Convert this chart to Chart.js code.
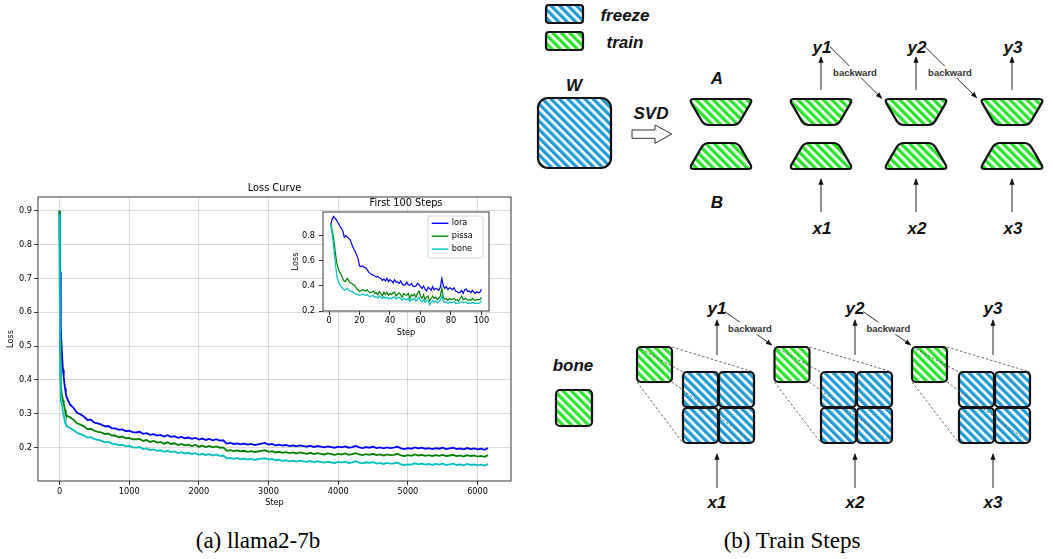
<!DOCTYPE html>
<html lang="en">
<head>
  <meta charset="UTF-8" />
  <title>Loss Curve and Train Steps</title>
  <script src="https://cdn.jsdelivr.net/npm/chart.js"></script>
  <style>
    body { margin: 0; background: #fff; }
    .page { position: relative; width: 1053px; height: 559px; overflow: hidden; background: #fff; }
    #lossChart { position: absolute; left: 0; top: 180px; }
    #insetChart { position: absolute; left: 285px; top: 196px; z-index: 2; }
    #diagram { position: absolute; left: 0; top: 0; }
    .caption { position: absolute; top: 529px; width: 240px; text-align: center;
      font-family: "Liberation Serif", "Times New Roman", serif; font-size: 23px; line-height: 1; color: #000; }
  </style>
</head>
<body>
<div class="page">
  <svg id="diagram" width="1053" height="559"></svg>
  <canvas id="lossChart" width="520" height="335" style="width:520px;height:335px"></canvas>
  <canvas id="insetChart" width="210" height="144" style="width:210px;height:144px"></canvas>
  <div class="caption" style="left:138px">(a) llama2-7b</div>
  <div class="caption" style="left:672px">(b) Train Steps</div>
</div>

<script>
  // ---- main curve ----
  const steps = [
    0, 3, 6, 10, 15, 20, 30, 40, 50, 60, 70, 80, 90, 100,
    150, 200, 250, 300, 350, 400, 450, 500, 550, 600,
    650, 700, 750, 800, 850, 900, 950, 1000, 1050, 1100,
    1150, 1200, 1250, 1300, 1350, 1400, 1450, 1500, 1550, 1600,
    1650, 1700, 1750, 1800, 1850, 1900, 1950, 2000, 2050, 2100,
    2150, 2200, 2250, 2300, 2350, 2400, 2450, 2500, 2550, 2600,
    2650, 2700, 2750, 2800, 2850, 2900, 2950, 3000, 3050, 3100,
    3150, 3200, 3250, 3300, 3350, 3400, 3450, 3500, 3550, 3600,
    3650, 3700, 3750, 3800, 3850, 3900, 3950, 4000, 4050, 4100,
    4150, 4200, 4250, 4300, 4350, 4400, 4450, 4500, 4550, 4600,
    4650, 4700, 4750, 4800, 4850, 4900, 4950, 5000, 5050, 5100,
    5150, 5200, 5250, 5300, 5350, 5400, 5450, 5500, 5550, 5600,
    5650, 5700, 5750, 5800, 5850, 5900, 5950, 6000, 6050, 6100,
    6150
  ];
  const loraLoss = [
    .900, .860, .800, .720, .620, .550, .500, .460, .430, .410, .390, .375, .360, .350,
    .328, .318, .303, .299, .292, .282, .283, .274, .272, .268,
    .263, .264, .258, .257, .253, .254, .249, .250, .246, .245,
    .247, .241, .243, .238, .240, .236, .238, .233, .237, .232,
    .234, .229, .232, .228, .230, .226, .229, .224, .227, .223,
    .226, .222, .225, .221, .222, .212, .214, .211, .213, .210,
    .212, .209, .211, .208, .210, .212, .214, .209, .211, .207,
    .209, .206, .208, .205, .207, .204, .207, .205, .203, .206,
    .202, .205, .203, .201, .204, .202, .200, .203, .201, .204,
    .200, .202, .205, .201, .199, .202, .200, .203, .199, .201,
    .198, .201, .199, .200, .203, .198, .196, .199, .197, .201,
    .198, .200, .197, .199, .196, .199, .197, .200, .196, .198,
    .200, .196, .198, .195, .199, .196, .198, .195, .197, .194,
    .199
  ];
  const pissaLoss = [
    .900, .800, .650, .520, .430, .390, .360, .350, .340, .330, .320, .310, .300, .295,
    .290, .283, .272, .268, .263, .255, .256, .250, .247, .245,
    .240, .242, .236, .236, .231, .233, .228, .229, .225, .225,
    .226, .220, .223, .217, .220, .215, .217, .212, .216, .211,
    .213, .208, .211, .207, .209, .205, .208, .203, .206, .202,
    .205, .201, .204, .200, .201, .191, .193, .190, .192, .189,
    .191, .188, .190, .187, .189, .191, .193, .188, .190, .186,
    .188, .185, .187, .184, .186, .183, .186, .184, .182, .185,
    .181, .184, .182, .180, .183, .181, .179, .182, .180, .183,
    .179, .181, .184, .180, .178, .181, .179, .182, .178, .180,
    .177, .180, .178, .179, .182, .177, .175, .178, .176, .180,
    .177, .179, .176, .178, .175, .178, .176, .179, .175, .177,
    .179, .175, .177, .174, .178, .175, .177, .174, .176, .173,
    .178
  ];
  const boneLoss = [
    .890, .780, .580, .450, .380, .340, .330, .320, .305, .295, .285, .275, .270, .265,
    .258, .252, .244, .240, .236, .230, .231, .225, .223, .221,
    .216, .218, .212, .211, .207, .209, .204, .205, .201, .200,
    .202, .196, .198, .193, .195, .191, .193, .188, .191, .187,
    .189, .184, .187, .183, .185, .181, .184, .179, .182, .178,
    .181, .177, .180, .176, .177, .168, .170, .167, .169, .166,
    .168, .165, .167, .164, .166, .168, .169, .165, .167, .163,
    .165, .161, .163, .160, .162, .159, .162, .160, .158, .161,
    .157, .160, .158, .156, .159, .157, .155, .158, .156, .159,
    .155, .157, .160, .156, .154, .157, .155, .157, .153, .155,
    .152, .155, .153, .154, .156, .151, .149, .151, .150, .154,
    .151, .153, .150, .152, .149, .152, .150, .153, .149, .151,
    .153, .149, .151, .148, .152, .149, .151, .148, .150, .147,
    .152
  ];
  const stepTicks = [0, 1000, 2000, 3000, 4000, 5000, 6000];
  const lossTicks = [0.2, 0.3, 0.4, 0.5, 0.6, 0.7, 0.8, 0.9];

  // ---- first 100 steps (inset), steps 1..100 ----
  const insetLora = [
    .885, .930, .955, .940, .925, .900, .880, .860, .840, .790,
    .800, .790, .780, .765, .730, .700, .680, .650, .620, .560,
    .555, .560, .550, .545, .530, .510, .500, .490, .485, .480,
    .470, .475, .465, .460, .445, .455, .440, .460, .435, .450,
    .440, .425, .450, .430, .430, .420, .440, .415, .405, .410,
    .430, .410, .405, .420, .400, .395, .400, .420, .410, .395,
    .380, .400, .375, .360, .390, .380, .365, .395, .370, .380,
    .375, .365, .390, .460, .400, .380, .395, .370, .385, .380,
    .370, .385, .360, .355, .345, .350, .365, .340, .370, .375,
    .355, .360, .345, .365, .350, .340, .355, .345, .350, .375
  ];
  const insetPissa = [
    .900, .850, .780, .680, .590, .540, .510, .490, .460, .435,
    .440, .460, .440, .425, .420, .410, .400, .380, .370, .355,
    .360, .370, .365, .360, .370, .355, .345, .350, .360, .340,
    .345, .330, .355, .340, .320, .350, .330, .350, .325, .340,
    .330, .345, .350, .320, .335, .345, .330, .310, .340, .330,
    .325, .340, .300, .330, .320, .335, .310, .340, .360, .320,
    .300, .330, .290, .310, .320, .280, .300, .320, .300, .310,
    .290, .300, .320, .380, .310, .295, .300, .285, .300, .290,
    .295, .300, .285, .290, .280, .300, .320, .290, .295, .300,
    .285, .290, .285, .300, .290, .285, .290, .290, .290, .310
  ];
  const insetBone = [
    .890, .820, .720, .600, .490, .440, .410, .395, .380, .365,
    .370, .380, .365, .360, .355, .350, .340, .335, .330, .325,
    .330, .335, .330, .325, .330, .320, .315, .320, .325, .310,
    .315, .305, .320, .310, .300, .315, .300, .310, .295, .305,
    .300, .310, .310, .295, .305, .310, .300, .285, .300, .295,
    .290, .300, .275, .295, .290, .300, .280, .290, .310, .285,
    .275, .290, .270, .280, .285, .250, .270, .285, .270, .280,
    .265, .275, .285, .320, .280, .270, .275, .260, .270, .265,
    .270, .275, .260, .265, .260, .270, .275, .265, .270, .270,
    .260, .265, .260, .270, .265, .260, .265, .260, .265, .280
  ];
  const insetStepTicks = [0, 20, 40, 60, 80, 100];
  const insetLossTicks = [0.2, 0.4, 0.6, 0.8];

  const seriesNames = ['lora', 'pissa', 'bone'];
  const seriesColors = ['#0000ff', '#008000', '#00bfbf'];

  const tickFont = { family: 'DejaVu Sans', size: 8.2 };
  const titleFont = { family: 'DejaVu Sans', size: 9.8, weight: 'normal' };

  // matplotlib-like box round the axes
  const frame = {
    id: 'frame',
    afterDraw(chart) {
      const { ctx, chartArea: a } = chart;
      ctx.save();
      ctx.strokeStyle = '#222';
      ctx.lineWidth = 0.9;
      ctx.strokeRect(a.left, a.top, a.right - a.left, a.bottom - a.top);
      ctx.restore();
    }
  };

  const whiteArea = {
    id: 'whiteArea',
    beforeDraw(chart) {
      const { ctx, chartArea: a } = chart;
      ctx.save();
      ctx.fillStyle = '#fff';
      ctx.fillRect(a.left, a.top, a.right - a.left, a.bottom - a.top);
      ctx.restore();
    }
  };

  const boxLegend = {
    id: 'boxLegend',
    afterDatasetsDraw(chart) {
      const { ctx, chartArea: a } = chart;
      const w = 55, h = 42, x = a.right - 6 - w, y = a.top + 4;
      ctx.save();
      ctx.fillStyle = 'rgba(255,255,255,0.8)';
      ctx.strokeStyle = '#cccccc';
      ctx.lineWidth = 0.8;
      ctx.beginPath();
      ctx.roundRect(x, y, w, h, 2);
      ctx.fill();
      ctx.stroke();
      ctx.font = '8.2px "DejaVu Sans"';
      ctx.textBaseline = 'middle';
      chart.data.datasets.forEach((ds, i) => {
        const ly = y + 7.3 + i * 12.9;
        ctx.strokeStyle = ds.borderColor;
        ctx.lineWidth = 1.4;
        ctx.beginPath();
        ctx.moveTo(x + 3.7, ly);
        ctx.lineTo(x + 20.3, ly);
        ctx.stroke();
        ctx.fillStyle = '#000';
        ctx.fillText(ds.label, x + 23.7, ly);
      });
      ctx.restore();
    }
  };

  function axisOptions(o) {
    return {
      type: 'linear',
      min: o.min,
      max: o.max,
      afterBuildTicks: s => { s.ticks = o.ticks.map(v => ({ value: v })); },
      afterFit: s => { if (o.width) s.width = o.width; if (o.height) s.height = o.height; },
      ticks: { color: '#000', font: tickFont, padding: o.pad, maxRotation: 0, autoSkip: false, callback: o.fmt },
      grid: { color: o.gridColor, lineWidth: 0.8, tickColor: '#000', tickLength: 4, tickWidth: 0.8 },
      border: { display: false },
      title: { display: true, text: o.title, color: '#000', font: tickFont, padding: o.titlePad }
    };
  }

  function lineSets(xs, ys, width) {
    return ys.map((vals, k) => ({
      label: seriesNames[k],
      data: xs.map((s, i) => ({ x: s, y: vals[i] })),
      borderColor: seriesColors[k],
      backgroundColor: seriesColors[k],
      borderWidth: width,
      pointRadius: 0,
      tension: 0,
      order: 3 - k
    }));
  }

  new Chart(document.getElementById('lossChart'), {
    type: 'line',
    data: { datasets: lineSets(steps, [loraLoss, pissaLoss, boneLoss], 1.8) },
    options: {
      responsive: false,
      animation: false,
      layout: { padding: { left: 0, right: 9, top: 0, bottom: 0 } },
      plugins: {
        legend: { display: false },
        tooltip: { enabled: false },
        title: { display: true, text: 'Loss Curve', fullSize: false, color: '#000', font: titleFont, padding: { top: 3, bottom: 2.24 } }
      },
      scales: {
        x: axisOptions({ min: -309, max: 6480, ticks: stepTicks, height: 34, pad: 2, fmt: v => String(v),
          gridColor: '#d0d0d0', title: 'Step', titlePad: { top: 0, bottom: 7.1 } }),
        y: axisOptions({ min: 0.1017, max: 0.9404, ticks: lossTicks, width: 38, pad: 2, fmt: v => v.toFixed(1),
          gridColor: '#d0d0d0', title: 'Loss', titlePad: { top: 6, bottom: 0 } })
      }
    },
    plugins: [frame]
  });

  const insetSteps = insetLora.map((v, i) => i + 1);

  new Chart(document.getElementById('insetChart'), {
    type: 'line',
    data: { datasets: lineSets(insetSteps, [insetLora, insetPissa, insetBone], 1.2) },
    options: {
      responsive: false,
      animation: false,
      layout: { padding: { left: 0, right: 6, top: 0, bottom: 0 } },
      plugins: {
        legend: { display: false },
        tooltip: { enabled: false },
        title: { display: true, text: 'First 100 Steps', fullSize: false, color: '#000', font: titleFont, padding: { top: 2, bottom: 2.24 } }
      },
      scales: {
        x: axisOptions({ min: -3.95, max: 104.95, ticks: insetStepTicks, height: 29, pad: 1, fmt: v => String(v),
          gridColor: 'transparent', title: 'Step', titlePad: { top: 0, bottom: 2.4 } }),
        y: axisOptions({ min: 0.2, max: 0.99, ticks: insetLossTicks, width: 38, pad: 4, fmt: v => v.toFixed(1),
          gridColor: 'transparent', title: 'Loss', titlePad: { top: 6, bottom: 0 } })
      }
    },
    plugins: [whiteArea, boxLegend, frame]
  });

  // ---- right panel: train steps diagram ----
  const BLUE = '#1f9bd9';
  const GREEN = '#27e627';

  function roundPoly(pts, r) {
    let d = '';
    const n = pts.length;
    for (let i = 0; i < n; i++) {
      const p = pts[i], a = pts[(i - 1 + n) % n], b = pts[(i + 1) % n];
      const da = Math.hypot(a[0] - p[0], a[1] - p[1]), db = Math.hypot(b[0] - p[0], b[1] - p[1]);
      const p1 = [p[0] + (a[0] - p[0]) * r / da, p[1] + (a[1] - p[1]) * r / da];
      const p2 = [p[0] + (b[0] - p[0]) * r / db, p[1] + (b[1] - p[1]) * r / db];
      d += (i ? 'L' : 'M') + p1.join(',') + 'Q' + p.join(',') + ' ' + p2.join(',');
    }
    return d + 'Z';
  }

  const ink = 'stroke="#111" stroke-width="2.2" stroke-linejoin="round"';
  const box = (x, y, w, h, r, fill) =>
    `<rect x="${x}" y="${y}" width="${w}" height="${h}" rx="${r}" fill="url(#${fill})" ${ink}/>`;
  const label = (x, y, t, size) =>
    `<text x="${x}" y="${y}" font-size="${size || 17}" font-weight="bold" font-style="italic" text-anchor="middle" dominant-baseline="central">${t}</text>`;
  const arrow = (x1, y1, x2, y2, c) =>
    `<line x1="${x1}" y1="${y1}" x2="${x2}" y2="${y2}" stroke="${c || '#222'}" stroke-width="1" marker-end="url(#head)"/>`;
  const dash = (x1, y1, x2, y2) =>
    `<line x1="${x1}" y1="${y1}" x2="${x2}" y2="${y2}" stroke="#555" stroke-width="0.9" stroke-dasharray="2.5,2"/>`;
  const backward = (x1, y1, x2, y2, lx, ly) =>
    arrow(x1, y1, x2, y2, '#333') +
    `<rect x="${lx - 23}" y="${ly - 6}" width="46" height="12" fill="#fff"/>` +
    `<text x="${lx}" y="${ly}" font-size="9.5" font-weight="bold" fill="#333" text-anchor="middle" dominant-baseline="central" font-style="normal">backward</text>`;

  let svg = `<defs>
    <pattern id="hb" patternUnits="userSpaceOnUse" width="6" height="6" patternTransform="rotate(-45)">
      <rect width="6" height="6" fill="#fff"/><rect width="3.3" height="6" fill="${BLUE}"/></pattern>
    <pattern id="hg" patternUnits="userSpaceOnUse" width="6" height="6" patternTransform="rotate(-45)">
      <rect width="6" height="6" fill="#fff"/><rect width="3.3" height="6" fill="${GREEN}"/></pattern>
    <marker id="head" viewBox="0 0 10 10" refX="9" refY="5" markerWidth="6.5" markerHeight="6.5" orient="auto">
      <path d="M0,1 L10,5 L0,9 z" fill="#111"/></marker>
  </defs><g font-family="Liberation Sans, Arial, sans-serif" fill="#111">`;

  // legend
  svg += box(546, 5, 37, 18, 3, 'hb') + label(625, 15, 'freeze');
  svg += box(546, 32, 37, 18, 3, 'hg') + label(625, 42, 'train');

  // W and SVD
  svg += label(574, 85, 'W') + box(538, 98, 73, 70, 10, 'hb');
  svg += label(651, 113, 'SVD');
  svg += `<path d="M632,130 L655,130 L655,125 L671.7,134 L655,143.3 L655,138.3 L632,138.3 Z" fill="#fff" stroke="#333" stroke-width="1"/>`;
  svg += label(717, 78, 'A') + label(717, 202, 'B');

  // A/B pairs
  const trapLeft = [689, 789, 884, 980];
  trapLeft.forEach((x0, i) => {
    const top = [[x0, 99], [x0 + 64, 99], [x0 + 49, 125], [x0 + 15, 125]];
    const bot = [[x0 + 15, 143], [x0 + 49, 143], [x0 + 64, 169], [x0, 169]];
    svg += `<path d="${roundPoly(top, 5)}" fill="url(#hg)" ${ink}/>`;
    svg += `<path d="${roundPoly(bot, 5)}" fill="url(#hg)" ${ink}/>`;
    if (i > 0) {
      const cx = x0 + 32;
      svg += arrow(cx, 90, cx, 57) + arrow(cx, 212, cx, 179);
      svg += label(cx + 1, 47, 'y' + i) + label(cx + 1, 228, 'x' + i);
    }
  });
  svg += backward(830, 46.7, 881.7, 98.3, 855, 72);
  svg += backward(925, 46.7, 976.7, 97.7, 950, 72);

  // bone
  svg += label(573, 365, 'bone') + box(556, 390, 36, 36, 4, 'hg');
  [0, 1, 2].forEach(i => {
    const sx = 637 + 137.5 * i, gx = 683 + 138 * i, cx = 717 + 138 * i;
    svg += box(sx, 347, 35, 35, 4, 'hg');
    svg += box(gx, 372, 35, 35, 4, 'hb') + box(gx + 36, 372, 35, 35, 4, 'hb');
    svg += box(gx, 408, 35, 35, 4, 'hb') + box(gx + 36, 408, 35, 35, 4, 'hb');
    svg += dash(sx + 35, 347, gx + 71, 372) + dash(sx, 382, gx, 443);
    svg += dash(sx, 347, gx, 372) + dash(sx + 35, 382, gx + 71, 443);
    svg += arrow(cx, 355, cx, 320) + arrow(cx, 488, cx, 454);
    svg += label(cx, 308, 'y' + (i + 1)) + label(cx, 502, 'x' + (i + 1));
  });
  svg += backward(725, 311.7, 771.7, 345, 750, 328.3);
  svg += backward(863.3, 311.7, 910.7, 345, 888.3, 328.3);
  svg += '</g>';

  document.getElementById('diagram').innerHTML = svg;
</script>
</body>
</html>
